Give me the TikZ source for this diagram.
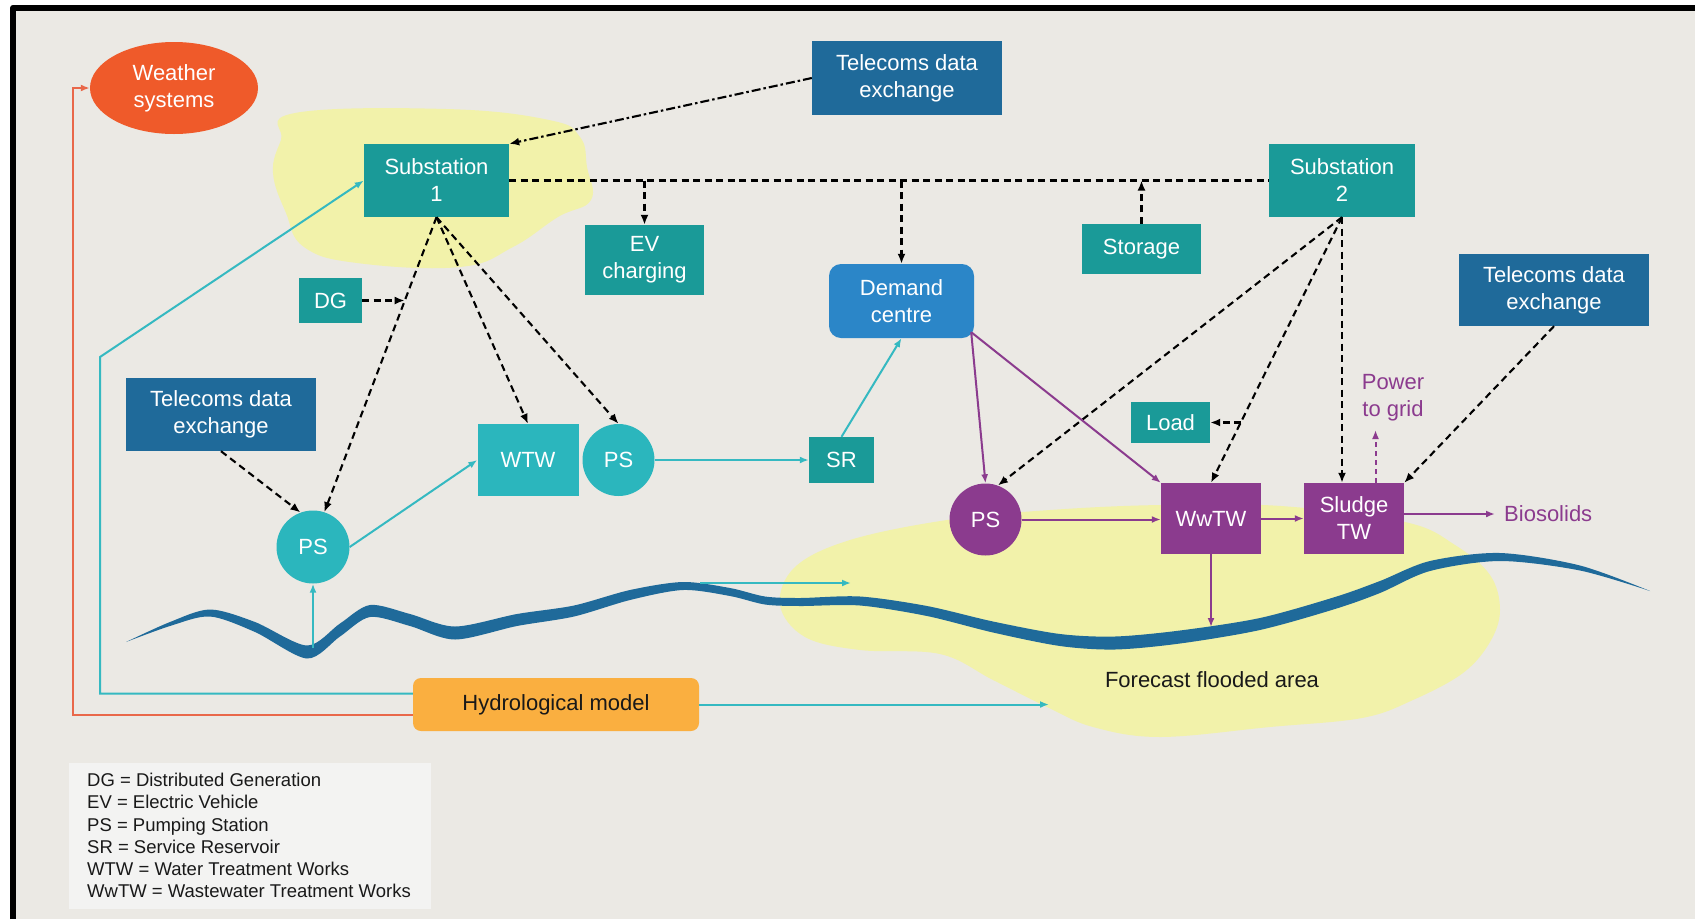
\documentclass[tikz,border=0pt]{standalone}
\usepackage{fontspec}
\setmainfont{Liberation Sans}
\usetikzlibrary{arrows.meta,shapes.geometric,calc}

\definecolor{bgc}{HTML}{EBE9E4}
\definecolor{tealc}{HTML}{1A9A98}
\definecolor{cyanc}{HTML}{2BB6BD}
\definecolor{navyc}{HTML}{1F6A9A}
\definecolor{demandc}{HTML}{2B86C8}
\definecolor{purplec}{HTML}{8B3B8E}
\definecolor{weatherc}{HTML}{EF5A2A}
\definecolor{hydroc}{HTML}{FAAF40}
\definecolor{floodc}{HTML}{F2F2AA}
\definecolor{riverc}{HTML}{1F6A9A}
\definecolor{cyanline}{HTML}{35B9C1}
\definecolor{redline}{HTML}{E9684A}
\definecolor{legendc}{HTML}{F3F3F2}

\begin{document}
\begin{tikzpicture}[x=1pt,y=-1pt,
  txt/.style={font=\fontsize{22}{27}\selectfont},
  box/.style={rectangle, inner sep=0pt, text=white, align=center, txt},
  tealbox/.style={box, fill=tealc},
  navybox/.style={box, fill=navyc},
  cyanbox/.style={box, fill=cyanc},
  purplebox/.style={box, fill=purplec},
  pump/.style={circle, inner sep=0pt, text=white, txt},
  tip/.style={-{Latex[length=9pt,width=7pt]}},
  btip/.style={-{Latex[length=10pt,width=8pt]}},
  ctrl/.style={black, line width=2.1pt, dash pattern=on 7pt off 4.5pt, btip},
  comms/.style={black, line width=2.1pt, dash pattern=on 9pt off 3pt on 2.5pt off 3pt, btip},
  water/.style={cyanline, line width=2pt, tip},
  waste/.style={purplec, line width=2pt, tip},
  weatherlink/.style={redline, line width=2pt, tip}]

\useasboundingbox (0,0) rectangle (1695,919);
\fill[white] (0,0) rectangle (1695,919);
\fill[bgc] (13,8) rectangle (1695,919);
\draw[black, line width=5.8pt, line join=round] (13,919) -- (13,7.8) -- (1695,7.8);

% shaded areas
\fill[floodc] plot[smooth cycle, tension=0.7] coordinates {
  (295,113) (446,109) (549,120) (580,137) (587,167) (591,200) (558,217)
  (513,247) (460,267) (357,263) (304,247) (286,213) (273,173) (281,140)};
\fill[floodc] plot[smooth cycle, tension=0.6] coordinates {
  (780,605) (795,567) (850,540) (947,520) (1050,510) (1160,505) (1281,506)
  (1405,522) (1455,545) (1490,575) (1500,610) (1490,642) (1463,673) (1413,700)
  (1362,718) (1270,727) (1160,737) (1093,727) (1047,707) (993,680) (940,654)
  (860,650) (805,637)};

% river
\fill[riverc] plot[smooth, tension=0.5] coordinates {
  (126,642) (170,622) (210,609.5) (255,622) (307,645.5) (340,623.5) (370,605)
  (410,614) (455,626.5) (517,614) (574,605.5) (630,590) (683,582) (730,588)
  (765,596.5) (800,598) (860,596.5) (927,606) (993,621.5) (1060,634)
  (1115,636.5) (1180,630.5) (1260,618) (1335,597) (1380,581) (1430,561)
  (1500,553) (1580,565.5) (1650,591)}
  -- plot[smooth, tension=0.5] coordinates {
  (1650,591) (1580,570.5) (1500,561) (1430,571) (1380,593) (1335,609)
  (1260,630) (1180,643.5) (1115,649.5) (1060,646) (993,632.5) (927,616)
  (860,605.5) (800,606) (765,604.5) (730,596) (683,590) (630,600)
  (574,616.5) (517,626) (455,639.5) (410,626) (370,617) (340,636.5)
  (307,658.5) (255,632) (210,616.5) (170,626) (126,642)} -- cycle;

% nodes
\node[ellipse, fill=weatherc, minimum width=168pt, minimum height=92pt, inner sep=0pt,
  text=white, align=center, txt] (ws) at (174,88) {Weather\\systems};
\node[navybox, minimum width=190pt, minimum height=74pt] (td1) at (907,78) {Telecoms data\\exchange};
\node[tealbox, minimum width=145pt, minimum height=73pt] (s1) at (436.5,180.5) {Substation\\1};
\node[tealbox, minimum width=146pt, minimum height=73pt] (s2) at (1342,180.5) {Substation\\2};
\node[tealbox, minimum width=119pt, minimum height=70pt] (ev) at (644.5,260) {EV\\charging};
\node[box, fill=demandc, rounded corners=12pt, minimum width=145pt, minimum height=74pt] (dc) at (901.5,301) {Demand\\centre};
\node[tealbox, minimum width=119pt, minimum height=50pt] (st) at (1141.5,249) {Storage};
\node[navybox, minimum width=190pt, minimum height=72pt] (td3) at (1554,290) {Telecoms data\\exchange};
\node[tealbox, minimum width=63pt, minimum height=45pt] (dg) at (330.5,300.5) {DG};
\node[navybox, minimum width=190pt, minimum height=73pt] (td2) at (221,414.5) {Telecoms data\\exchange};
\node[cyanbox, minimum width=101pt, minimum height=72pt] (wtw) at (528,460) {WTW};
\node[pump, fill=cyanc, minimum size=72pt] (psm) at (618.5,460) {PS};
\node[tealbox, minimum width=65pt, minimum height=46pt] (sr) at (841.5,460) {SR};
\node[pump, fill=cyanc, minimum size=73pt] (ps1) at (313,547) {PS};
\node[pump, fill=purplec, minimum size=72pt] (ps2) at (985.5,519.5) {PS};
\node[tealbox, minimum width=79pt, minimum height=41pt] (load) at (1170.5,422.5) {Load};
\node[purplebox, minimum width=100pt, minimum height=71pt] (ww) at (1211,518.5) {WwTW};
\node[purplebox, minimum width=100pt, minimum height=71pt] (sl) at (1354,518.5) {Sludge\\TW};
\node[box, fill=hydroc, text=black!90, rounded corners=8pt, minimum width=286pt, minimum height=53pt] (hydro) at (556,704.5) {Hydrological model};
\node[txt, text=purplec, align=center, inner sep=0pt] (pgt) at (1393,398) {Power\\to grid};
\node[txt, text=purplec, anchor=west, inner sep=0pt] (bio) at (1504,514) {Biosolids};
\node[txt, text=black!90, inner sep=0pt] (ffa) at (1212,680) {Forecast flooded area};

% key
\fill[legendc] (69,763) rectangle (431,909);
\node[anchor=north west, inner sep=0pt, align=left, text=black!90,
  font=\fontsize{18.5}{22.2}\selectfont] (key) at (87,773)
  {DG = Distributed Generation\\EV = Electric Vehicle\\PS = Pumping Station\\SR = Service Reservoir\\WTW = Water Treatment Works\\WwTW = Wastewater Treatment Works};

% free ends of connectors
\coordinate (bend) at (100,357);
\coordinate (floodin) at (1049,704.5);
\coordinate (rv1) at (313,648);
\coordinate (rv2) at (700,583);
\coordinate (rv2e) at (851,583);
\coordinate (rv3) at (1211,627);
\coordinate (pg) at (1375.5,430);

% telecoms links
\draw[comms] (td1.west) -- (s1.north east);
\draw[ctrl] (td2.south) -- (ps1.110);
\draw[ctrl] (td3.south) -- (sl.north east);

% power network
\draw[black, line width=2.1pt, dash pattern=on 7pt off 4.5pt] (s1.east) -- (s2.west);
\draw[ctrl] (ev.north |- s1.east) -- (ev.north);
\draw[ctrl] (dc.north |- s1.east) -- (dc.north);
\draw[ctrl] (st.north) -- (st.north |- s1.east);
\draw[ctrl] (s1.south) -- coordinate[pos=0.284] (dgj) (ps1.72);
\draw[ctrl] (dg.east) -- (dg.east -| dgj);
\draw[ctrl] (s1.south) -- (wtw.north);
\draw[ctrl] (s1.south) -- (psm.north);
\draw[ctrl] (s2.south) -- (ps2.70);
\draw[ctrl] (s2.south) -- coordinate[pos=0.771] (ldj) (ww.north);
\draw[ctrl] (load.east -| ldj) -- (load.east);
\draw[ctrl] (s2.south) -- (s2.south |- sl.north);

% clean water
\draw[water] ([yshift=11pt]hydro.west) -| (bend) -- (s1.west);
\draw[water] (hydro.east) -- (floodin);
\draw[water] (rv1) -- (ps1.south);
\draw[water] (ps1.east) -- (wtw.west);
\draw[water] (psm.east) -- (sr.west);
\draw[water] (sr.north) -- (dc.south);
\draw[water] (rv2) -- (rv2e);

% weather
\draw[weatherlink] ([yshift=-10pt]hydro.west) -| ([xshift=-17pt]ws.west) -- (ws.west);

% wastewater
\draw[waste] ([shift={(-3pt,6pt)}]dc.south east) -- (ps2.north);
\draw[waste] ([shift={(-3pt,6pt)}]dc.south east) -- (ww.north west);
\draw[waste] (ps2.east) -- (ps2.east -| ww.west);
\draw[waste] (ww.east) -- (sl.west);
\draw[waste] (ww.south) -- (rv3);
\draw[waste] ([yshift=4.5pt]sl.east) -- ([xshift=-9pt]bio.west);
\draw[waste, dash pattern=on 5pt off 4pt] ([xshift=21.5pt]sl.north) -- (pg);

\end{tikzpicture}
\end{document}
